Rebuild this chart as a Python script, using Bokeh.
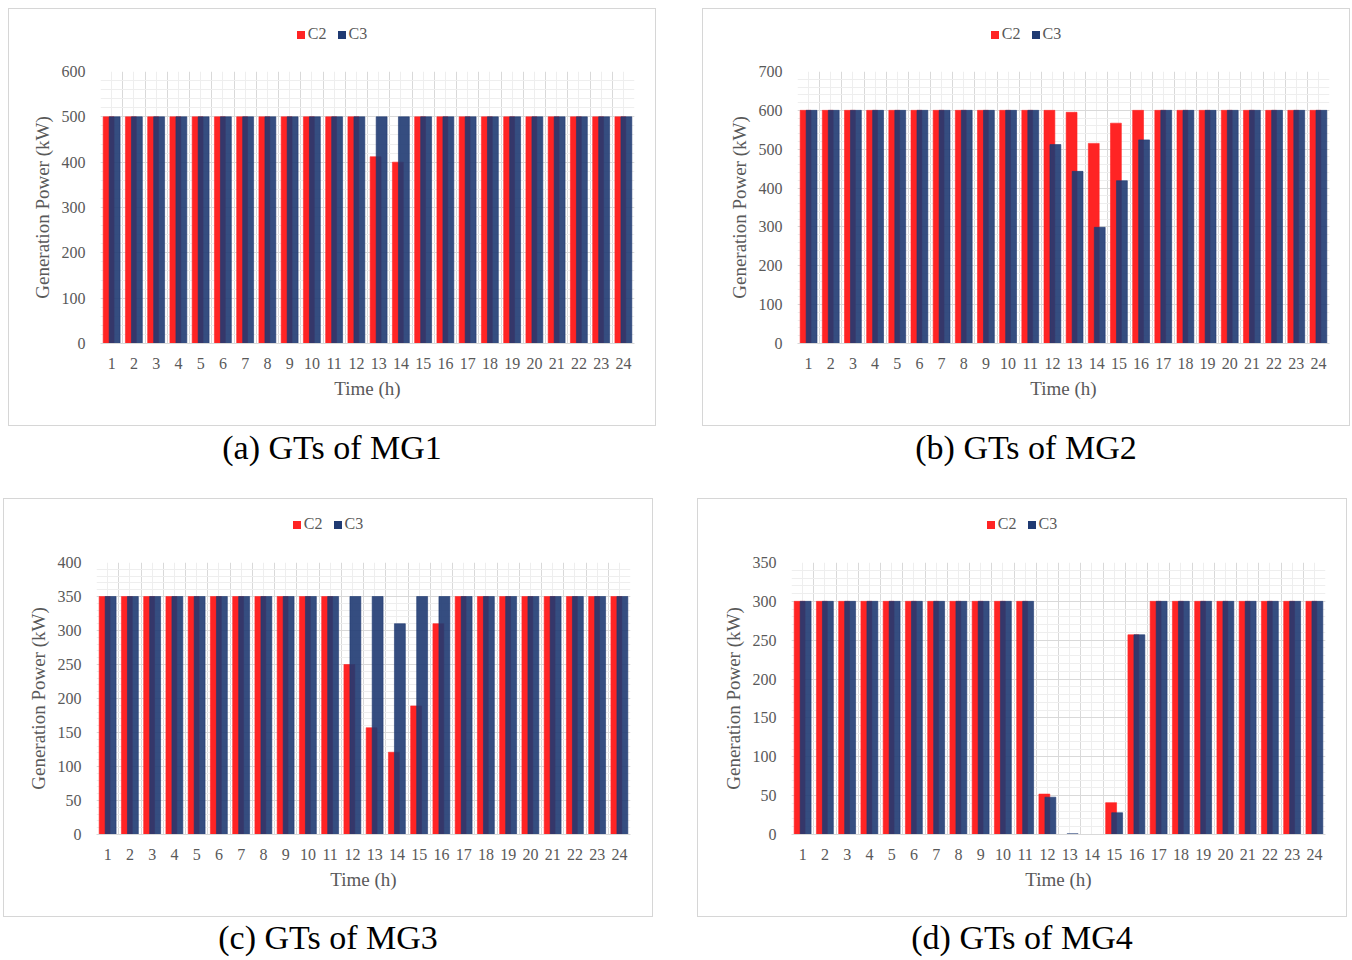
from bokeh.plotting import figure
from bokeh.models import (Range1d, FixedTicker, SingleIntervalTicker,
                          ColumnDataSource, Div, Spacer)
from bokeh.layouts import column, row
from bokeh.transform import dodge
from bokeh.embed import file_html
from bokeh.resources import INLINE

hours = [1, 2, 3, 4, 5, 6, 7, 8, 9, 10, 11, 12, 13, 14, 15, 16, 17, 18, 19, 20, 21, 22, 23, 24]

mg1_c2 = [500, 500, 500, 500, 500, 500, 500, 500, 500, 500, 500, 500, 412, 400, 500, 500, 500, 500, 500, 500, 500, 500, 500, 500]
mg1_c3 = [500, 500, 500, 500, 500, 500, 500, 500, 500, 500, 500, 500, 500, 500, 500, 500, 500, 500, 500, 500, 500, 500, 500, 500]

mg2_c2 = [600, 600, 600, 600, 600, 600, 600, 600, 600, 600, 600, 600, 595, 515, 567, 600, 600, 600, 600, 600, 600, 600, 600, 600]
mg2_c3 = [600, 600, 600, 600, 600, 600, 600, 600, 600, 600, 600, 512, 443, 299, 419, 524, 600, 600, 600, 600, 600, 600, 600, 600]

mg3_c2 = [350, 350, 350, 350, 350, 350, 350, 350, 350, 350, 350, 250, 157, 121, 189, 310, 350, 350, 350, 350, 350, 350, 350, 350]
mg3_c3 = [350, 350, 350, 350, 350, 350, 350, 350, 350, 350, 350, 350, 350, 310, 350, 350, 350, 350, 350, 350, 350, 350, 350, 350]

mg4_c2 = [300, 300, 300, 300, 300, 300, 300, 300, 300, 300, 300, 52, 0, 0, 41, 257, 300, 300, 300, 300, 300, 300, 300, 300]
mg4_c3 = [300, 300, 300, 300, 300, 300, 300, 300, 300, 300, 300, 48, 1, 0, 28, 257, 300, 300, 300, 300, 300, 300, 300, 300]

series_names = ["C2", "C3"]
captions = ["(a) GTs of MG1", "(b) GTs of MG2", "(c) GTs of MG3", "(d) GTs of MG4"]
y_max = [600, 700, 400, 350]
y_step = [100, 100, 50, 50]
x_label = "Time (h)"
y_label = "Generation Power (kW)"

RED = "#FF2424"
BLUE = "#1F3A72"
GRID = "#D9D9D9"
MINOR = "#EEEEEE"
TXT = "#595959"
FONT = "Liberation Serif"
LEG_H = 44


def legend_div(w):
    def item(color, name):
        return (f'<span style="display:inline-block;width:8px;height:8px;background:{color};'
                f'margin-right:3px;vertical-align:0px"></span>{name}')
    html = (f'<div style="padding-top:15px;line-height:20px;">'
            f'{item(RED, series_names[0])}<span style="display:inline-block;width:11px"></span>'
            f'{item(BLUE, series_names[1])}</div>')
    return Div(text=html, width=w, height=LEG_H, margin=0,
               styles={"text-align": "center", "font-family": FONT, "font-size": "16px",
                       "color": TXT})


def panel(c2, c3, ymax, ystep, w, h, borders):
    left, right, top, bottom = borders
    p = figure(width=w - 2, height=h - 2 - LEG_H, output_backend="svg", toolbar_location=None,
               x_range=Range1d(0.5, 24.5), y_range=Range1d(0, ymax),
               min_border_left=left, min_border_right=right,
               min_border_top=top - LEG_H, min_border_bottom=bottom, margin=0)
    p.outline_line_color = None
    src = ColumnDataSource(dict(hour=hours, c2=c2, c3=c3))
    p.vbar(x=dodge("hour", -0.135), top="c2", width=0.49, source=src,
           fill_color=RED, line_color=RED, line_alpha=0.6)
    p.vbar(x=dodge("hour", 0.135), top="c3", width=0.49, source=src,
           fill_color=BLUE, fill_alpha=0.9, line_color=BLUE, line_alpha=0.6)

    # grid: boundaries between hours (major) and centres (minor)
    bounds = [hr - 0.5 for hr in hours] + [hours[-1] + 0.5]
    p.xgrid.ticker = FixedTicker(ticks=bounds, minor_ticks=hours)
    p.xgrid.grid_line_color = GRID
    p.xgrid.minor_grid_line_color = MINOR
    p.ygrid.grid_line_color = GRID
    p.ygrid.minor_grid_line_color = MINOR

    p.xaxis.ticker = FixedTicker(ticks=hours)
    p.yaxis.ticker = SingleIntervalTicker(interval=ystep, num_minor_ticks=5)
    p.ygrid.ticker = SingleIntervalTicker(interval=ystep, num_minor_ticks=5)

    for ax in (p.xaxis[0], p.yaxis[0]):
        ax.major_tick_line_color = None
        ax.minor_tick_line_color = None
        ax.major_label_text_font = FONT
        ax.major_label_text_font_size = "16px"
        ax.major_label_text_color = TXT
        ax.axis_label_text_font = FONT
        ax.axis_label_text_font_size = "19px"
        ax.axis_label_text_font_style = "normal"
        ax.axis_label_text_color = TXT
    p.xaxis.axis_line_color = GRID
    p.yaxis.axis_line_color = None
    p.xaxis.axis_label = x_label
    p.yaxis.axis_label = y_label
    p.xaxis.major_label_standoff = 8
    p.yaxis.major_label_standoff = 9
    p.xaxis.axis_label_standoff = 6
    p.yaxis.axis_label_standoff = 6

    box = column(legend_div(w - 2), p, spacing=0,
                 styles={"border": "1px solid #D6D6D6"})
    return box


def cap(text, w, h):
    return Div(text=text, width=w, height=h, margin=0,
               styles={"text-align": "center", "font-family": FONT, "font-size": "34px",
                       "line-height": f"{h}px", "color": "#000000"})


pa = panel(mg1_c2, mg1_c3, y_max[0], y_step[0], 648, 418, (91, 21, 62, 82))
pb = panel(mg2_c2, mg2_c3, y_max[1], y_step[1], 648, 418, (94, 20, 62, 82))
pc = panel(mg3_c2, mg3_c3, y_max[2], y_step[2], 650, 419, (92, 22, 63, 82))
pd = panel(mg4_c2, mg4_c3, y_max[3], y_step[3], 650, 419, (93, 21, 63, 82))

top_row = row(Spacer(width=8), column(pa, cap(captions[0], 648, 44)),
              Spacer(width=46), column(pb, cap(captions[1], 648, 44)))
bot_row = row(Spacer(width=3), column(pc, cap(captions[2], 650, 42)),
              Spacer(width=44), column(pd, cap(captions[3], 650, 42)))
layout = column(Spacer(height=8), top_row, Spacer(height=28), bot_row)

open("out.html", "w").write(file_html(layout, INLINE))
